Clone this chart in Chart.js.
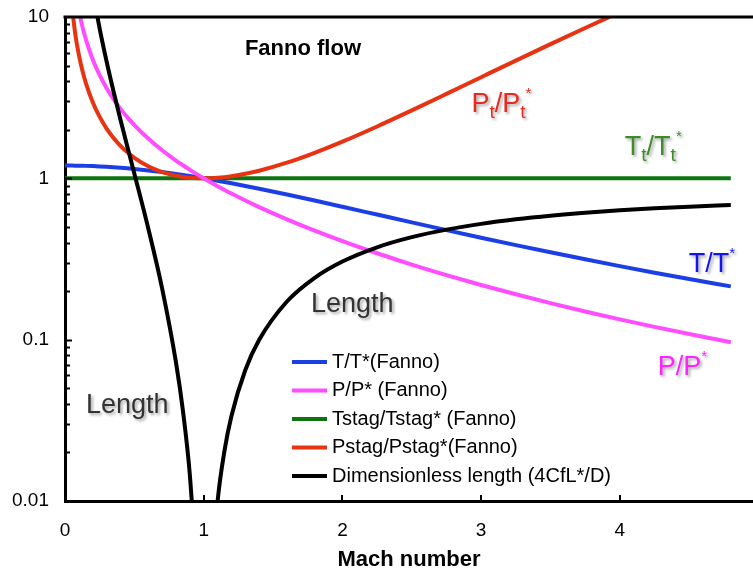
<!DOCTYPE html>
<html>
<head>
<meta charset="utf-8">
<script src="https://cdn.jsdelivr.net/npm/chart.js@4.4.1/dist/chart.umd.min.js"></script>
<style>
  body { margin: 0; background: #fff; }
  canvas { display: block; }
</style>
</head>
<body>
<canvas id="fannoChart" width="753" height="571"></canvas>
<script>
// Mach numbers and Fanno-flow ratios (gamma = 1.4)
const mach = [0, 0.05, 0.075, 0.1, 0.125, 0.15, 0.2, 0.25, 0.3, 0.35, 0.4, 0.45, 0.5, 0.6, 0.7, 0.8, 0.85, 0.9, 0.95,
  1.0, 1.05, 1.1, 1.15, 1.2, 1.3, 1.4, 1.6, 1.8, 2.0, 2.25, 2.5, 2.75, 3.0, 3.25, 3.5, 3.75, 4.0, 4.25, 4.5, 4.8];

const tRatio = [1.2, 1.1994, 1.1987, 1.1976, 1.1963, 1.1946, 1.1905, 1.1852, 1.1788, 1.1713, 1.1628, 1.1533, 1.1429,
  1.1194, 1.0929, 1.0638, 1.0485, 1.0327, 1.0165, 1.0, 0.9832, 0.9662, 0.9490, 0.9317, 0.8969, 0.8621, 0.7937, 0.7282,
  0.6667, 0.5963, 0.5333, 0.4776, 0.4286, 0.3855, 0.3478, 0.3148, 0.2857, 0.2602, 0.2376, 0.2140];

const pRatio = [null, 21.9, 14.60, 10.94, 8.750, 7.287, 5.455, 4.355, 3.619, 3.092, 2.696, 2.386, 2.138, 1.763, 1.493,
  1.289, 1.2047, 1.1291, 1.0613, 1.0, 0.9444, 0.8936, 0.8471, 0.8044, 0.7285, 0.6632, 0.5568, 0.4741, 0.4082, 0.3432,
  0.2921, 0.2513, 0.2182, 0.1911, 0.1685, 0.1496, 0.1336, 0.1200, 0.1083, 0.0964];

const t0Ratio = [1, 1, 1, 1, 1, 1, 1, 1, 1, 1, 1, 1, 1, 1, 1, 1, 1, 1, 1, 1, 1, 1, 1, 1, 1, 1, 1, 1, 1, 1, 1, 1, 1, 1,
  1, 1, 1, 1, 1, 1];

const p0Ratio = [null, 11.59, 7.742, 5.822, 4.673, 3.910, 2.964, 2.403, 2.035, 1.778, 1.590, 1.449, 1.340, 1.188, 1.094,
  1.038, 1.0207, 1.0089, 1.0021, 1.0, 1.0020, 1.0079, 1.0175, 1.0304, 1.0663, 1.1149, 1.2502, 1.4390, 1.6875, 2.0964,
  2.6367, 3.3377, 4.2346, 5.3691, 6.7896, 8.5518, 10.719, 13.362, 16.56, 21.26];

const fannoLength = [null, 280.0, 121.98, 66.92, 41.59, 27.93, 14.533, 8.483, 5.299, 3.452, 2.308, 1.566, 1.069, 0.4909,
  0.2081, 0.0723, 0.03634, 0.01451, 0.00328, null, 0.00271, 0.00993, 0.02053, 0.03364, 0.06483, 0.09974, 0.17236,
  0.24189, 0.30500, 0.37378, 0.43198, 0.48095, 0.52216, 0.55694, 0.58643, 0.61155, 0.63307, 0.65159, 0.66764, 0.6841];

const seriesLabels = ['T/T*(Fanno)', 'P/P* (Fanno)', 'Tstag/Tstag* (Fanno)', 'Pstag/Pstag*(Fanno)',
  'Dimensionless length (4CfL*/D)'];
const seriesValues = [tRatio, pRatio, t0Ratio, p0Ratio, fannoLength];
const seriesColors = ['#1b3fe4', '#ff4dff', '#0f740f', '#e83312', '#000000'];
const seriesOrder = [4, 1, 3, 2, 0];

const xTicks = [0, 1, 2, 3, 4];
const yTicks = [0.01, 0.1, 1, 10];

const FONT = '"Liberation Sans", Arial, Helvetica, sans-serif';

// text placed on the plot, anchored in data coordinates (Mach, ratio)
const notes = [
  { x: 1.297, y: 5.8, color: '#000', parts: [['Fanno flow', 22, 0, 'bold']] },
  { x: 2.93, y: 2.58, color: '#e8291f', shadow: true,
    parts: [['P', 27, 0], ['t', 19, 6], ['/P', 27, 0], ['t', 19, 6], ['*', 15, -14]] },
  { x: 4.036, y: 1.395, color: '#3c8c28', shadow: true,
    parts: [['T', 27, 0], ['t', 19, 6], ['/T', 27, 0], ['t', 19, 6], ['*', 15, -14]] },
  { x: 4.497, y: 0.2624, color: '#1414ee', shadow: true, parts: [['T/T', 27, 0], ['*', 15, -14]] },
  { x: 4.274, y: 0.0604, color: '#ff22ff', shadow: true, parts: [['P/P', 27, 0], ['*', 15, -14]] },
  { x: 1.773, y: 0.148, color: '#333333', shadow: true, parts: [['Length', 27, 0]] },
  { x: 0.151, y: 0.0351, color: '#333333', shadow: true, parts: [['Length', 27, 0]] }
];

const datasets = seriesLabels.map((label, i) => ({
  label: label,
  data: mach.map((m, j) => ({ x: m, y: seriesValues[i][j] })),
  borderColor: seriesColors[i],
  backgroundColor: seriesColors[i],
  borderWidth: 4,
  pointRadius: 0,
  cubicInterpolationMode: 'monotone',
  spanGaps: false,
  clip: 0,
  order: seriesOrder[i]
}));

// inward tick marks, top frame line, legend and labels
const decorations = {
  id: 'decorations',
  afterDatasetsDraw(chart) {
    const { ctx, chartArea, scales } = chart;
    const xs = scales.x, ys = scales.y;
    ctx.save();

    // top frame
    ctx.strokeStyle = '#000';
    ctx.lineWidth = 3;
    ctx.beginPath();
    ctx.moveTo(chartArea.left - 1.5, chartArea.top);
    ctx.lineTo(chartArea.right, chartArea.top);
    ctx.stroke();

    // y ticks: majors and 2..9 minors, pointing into the plot
    ctx.lineWidth = 2;
    ctx.beginPath();
    for (let d = 0; d < yTicks.length - 1; d++) {
      for (let k = 1; k <= 9; k++) {
        const py = Math.round(ys.getPixelForValue(yTicks[d] * k)) + 0.5;
        const len = k === 1 ? 7 : 5;
        ctx.moveTo(chartArea.left, py);
        ctx.lineTo(chartArea.left + len, py);
      }
    }
    // x ticks pointing up
    xTicks.slice(1).forEach(v => {
      const px = Math.round(xs.getPixelForValue(v));
      ctx.moveTo(px, chartArea.bottom);
      ctx.lineTo(px, chartArea.bottom - 6);
    });
    ctx.stroke();

    // legend
    ctx.font = '20px ' + FONT;
    ctx.textBaseline = 'middle';
    ctx.textAlign = 'left';
    chart.data.datasets.forEach((ds, i) => {
      const rowY = 362 + i * 28.5;
      ctx.strokeStyle = ds.borderColor;
      ctx.lineWidth = 4;
      ctx.beginPath();
      ctx.moveTo(292, rowY);
      ctx.lineTo(327, rowY);
      ctx.stroke();
      ctx.fillStyle = '#000';
      ctx.fillText(ds.label, 332, rowY);
    });

    // labels on the plot
    ctx.textBaseline = 'alphabetic';
    notes.forEach(n => {
      let px = xs.getPixelForValue(n.x);
      const py = ys.getPixelForValue(n.y);
      ctx.save();
      if (n.shadow) {
        ctx.shadowColor = 'rgba(0,0,0,0.35)';
        ctx.shadowBlur = 3;
        ctx.shadowOffsetX = 2;
        ctx.shadowOffsetY = 2;
      }
      ctx.fillStyle = n.color;
      n.parts.forEach(([txt, size, dy, weight]) => {
        ctx.font = (weight ? weight + ' ' : '') + size + 'px ' + FONT;
        ctx.fillText(txt, px, py + dy);
        px += ctx.measureText(txt).width;
      });
      ctx.restore();
    });

    ctx.restore();
  }
};

new Chart(document.getElementById('fannoChart'), {
  type: 'line',
  data: { datasets: datasets },
  options: {
    responsive: false,
    animation: false,
    events: [],
    layout: { padding: { top: 17, left: 0, right: 0, bottom: 0 } },
    plugins: { legend: { display: false }, tooltip: { enabled: false } },
    scales: {
      x: {
        type: 'linear',
        min: 0,
        max: 4.96,
        afterBuildTicks: s => { s.ticks = xTicks.map(v => ({ value: v })); },
        afterFit: s => {
          s.height = 70;
          s.paddingLeft = 0;
          s.paddingRight = 0;
        },
        grid: { display: false, drawTicks: false },
        border: { display: true, color: '#000', width: 3 },
        ticks: { color: '#000', font: { family: FONT, size: 19 }, padding: 18, maxRotation: 0 },
        title: {
          display: true,
          text: 'Mach number',
          color: '#000',
          font: { family: FONT, size: 22, weight: 'bold', lineHeight: 1 },
          padding: { top: 0, bottom: 0 }
        }
      },
      y: {
        type: 'logarithmic',
        min: 0.01,
        max: 10,
        afterBuildTicks: s => { s.ticks = yTicks.map(v => ({ value: v })); },
        afterFit: s => {
          s.width = 65;
          s.paddingTop = 0;
          s.paddingBottom = 0;
        },
        grid: { display: false, drawTicks: false },
        border: { display: true, color: '#000', width: 3 },
        ticks: {
          color: '#000',
          font: { family: FONT, size: 19 },
          padding: 16,
          autoSkip: false,
          callback: v => String(v)
        }
      }
    }
  },
  plugins: [decorations]
});
</script>
</body>
</html>
